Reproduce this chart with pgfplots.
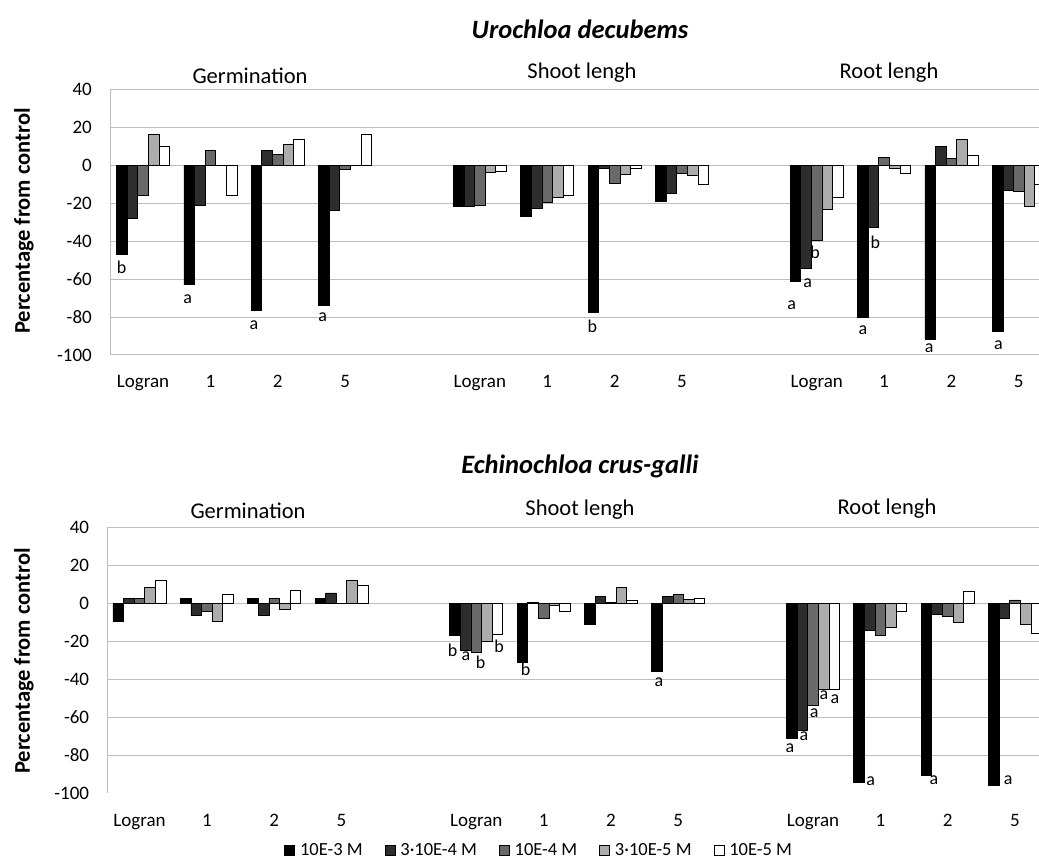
\documentclass[border=0pt]{standalone}
\usepackage{pgfplots}
\usepackage{pgfplotstable}
\pgfplotsset{compat=1.18}
\usepackage{fontspec}
\setmainfont{Carlito}
\definecolor{cA}{RGB}{0,0,0}
\definecolor{cB}{RGB}{45,45,45}
\definecolor{cC}{RGB}{105,105,105}
\definecolor{cD}{RGB}{172,172,172}
\definecolor{cE}{RGB}{255,255,255}
\definecolor{gridc}{RGB}{190,190,190}

\pgfplotstableread{
x a b c d e
0 -47 -28 -16 16 10
1 -63 -21 8 0 -16
2 -76.5 8 5.5 11 13.5
3 -74 -24 -2 0 16
5 -21.6 -21.8 -21 -4 -3.5
6 -27.2 -22.5 -19.8 -16.9 -16
7 -77.3 -1.5 -9.3 -4.9 -1.4
8 -19 -14.8 -4.4 -5.6 -10.2
10 -61 -54.4 -39.7 -23 -17
11 -80.4 -32.5 4.2 -1.4 -4.2
12 -91.5 9.7 3.5 13.5 5.4
13 -87.6 -13.2 -13.7 -21.6 -10.2
}\topdata

\pgfplotstableread{
x a b c d e
0 -9.3 2.6 2.6 8.6 12.1
1 2.6 -6.1 -4 -9.3 4.9
2 2.6 -6.1 2.6 -3 7
3 2.6 5.6 0 12 9.7
5 -16.9 -24.9 -25.6 -20 -16
6 -30.9 0.7 -7.6 -1 -4.2
7 -10.9 3.9 0.7 8.4 1.9
8 -35.5 3.9 4.7 2.3 2.8
10 -71.3 -66.6 -53.4 -45.1 -45.1
11 -94.3 -14 -16.9 -12.3 -4.2
12 -90.3 -5.6 -6.7 -9.8 6.5
13 -95.9 -7.6 1.9 -11.2 -15.5
}\botdata

\tikzset{lett/.style={font=\fontsize{18}{20}\selectfont, inner sep=0pt}}
\pgfplotsset{
  myaxis/.style={
    scale only axis,
    ybar=0pt, bar width=10.6pt,
    ymin=-100, ymax=40,
    xtick={0,1,2,3,5,6,7,8,10,11,12,13},
    xticklabels={Logran,1,2,5,Logran,1,2,5,Logran,1,2,5},
    major tick length=0pt,
    axis lines*=left,
    x axis line style={draw=none},
    y axis line style={draw=gridc, line width=1pt, -},
    /pgf/number format/assume math mode=true,
    ticklabel style={font=\fontsize{19}{22}\selectfont},
    xticklabel style={anchor=base, yshift=-33pt},
    yticklabel style={anchor=east, inner sep=0pt, xshift=-18pt},
    every axis plot/.append style={draw=black, line width=0.7pt},
    grid style={draw=gridc, line width=1pt},
    legend image code/.code={\draw[#1] (0pt,-5pt) rectangle (10pt,5pt);},
  },
}

\begin{document}
\begin{tikzpicture}[x=1pt,y=1pt]
\useasboundingbox (0,0) rectangle (1039,866);

% ---------- top chart ----------
\begin{axis}[myaxis,
  at={(110pt,511pt)}, anchor=south west,
  width=929pt, height=265.7pt,
  xmin=-0.49, xmax=13.30,
  ytick={-100,-80,...,40},
  ymajorgrids,
]
\addplot[fill=cA] table[x=x,y=a]{\topdata};
\addplot[fill=cB] table[x=x,y=b]{\topdata};
\addplot[fill=cC] table[x=x,y=c]{\topdata};
\addplot[fill=cD] table[x=x,y=d]{\topdata};
\addplot[fill=cE] table[x=x,y=e]{\topdata};
\node[lett] at (axis cs:-0.316,-54) {b};
\node[lett] at (axis cs:0.663,-70.8) {a};
\node[lett] at (axis cs:1.648,-84.3) {a};
\node[lett] at (axis cs:2.667,-80.1) {a};
\node[lett] at (axis cs:6.669,-84.8) {b};
\node[lett] at (axis cs:9.629,-73.9) {a};
\node[lett] at (axis cs:9.866,-62.0) {a};
\node[lett] at (axis cs:9.975,-45.8) {b};
\node[lett] at (axis cs:10.687,-86.9) {a};
\node[lett] at (axis cs:10.870,-40.6) {b};
\node[lett] at (axis cs:11.671,-96.6) {a};
\node[lett] at (axis cs:12.696,-94.8) {a};
\end{axis}

% ---------- bottom chart ----------
\begin{axis}[myaxis,
  at={(107.3pt,72.7pt)}, anchor=south west,
  width=931.7pt, height=265.6pt,
  xmin=-0.478, xmax=13.356,
  ytick={-100,-80,...,40},
  extra y ticks={-80,-60,-40,-20,0,20,40},
  extra y tick labels={},
  extra y tick style={grid=major},
  legend columns=5,
  legend style={at={(axis description cs:0.4635,-0.2134)}, anchor=center,
    draw=none, fill=none, font=\fontsize{18.5}{21}\selectfont,
    /tikz/every odd column/.append style={column sep=3pt},
    /tikz/every even column/.append style={column sep=20pt}},
]
\addplot[fill=cA] table[x=x,y=a]{\botdata};
\addplot[fill=cB] table[x=x,y=b]{\botdata};
\addplot[fill=cC] table[x=x,y=c]{\botdata};
\addplot[fill=cD] table[x=x,y=d]{\botdata};
\addplot[fill=cE] table[x=x,y=e]{\botdata};
\legend{10E-3 M, 3·10E-4 M, 10E-4 M, 3·10E-5 M, 10E-5 M}
\node[lett] at (axis cs:4.650,-24.8) {b};
\node[lett] at (axis cs:4.848,-27.9) {a};
\node[lett] at (axis cs:5.066,-30.9) {b};
\node[lett] at (axis cs:5.338,-22.7) {b};
\node[lett] at (axis cs:5.734,-34.4) {b};
\node[lett] at (axis cs:7.713,-41.6) {a};
\node[lett] at (axis cs:9.659,-76.2) {a};
\node[lett] at (axis cs:9.866,-69.7) {a};
\node[lett] at (axis cs:10.019,-57.8) {a};
\node[lett] at (axis cs:10.163,-48.1) {a};
\node[lett] at (axis cs:10.327,-50.4) {a};
\node[lett] at (axis cs:10.857,-93.8) {a};
\node[lett] at (axis cs:11.797,-93.2) {a};
\node[lett] at (axis cs:12.900,-93.2) {a};
\end{axis}

% ---------- titles ----------
\node[anchor=base, font=\fontsize{26.5}{30}\selectfont\bfseries\itshape] at (580,827) {Urochloa decubems};
\node[anchor=base, font=\fontsize{26.5}{30}\selectfont\bfseries\itshape] at (580,392) {Echinochloa crus-galli};
\node[anchor=base, font=\fontsize{22.5}{26}\selectfont] at (250,782) {Germination};
\node[anchor=base, font=\fontsize{22.5}{26}\selectfont] at (582,787) {Shoot lengh};
\node[anchor=base, font=\fontsize{22.5}{26}\selectfont] at (889,787) {Root lengh};
\node[anchor=base, font=\fontsize{22.5}{26}\selectfont] at (248,347) {Germination};
\node[anchor=base, font=\fontsize{22.5}{26}\selectfont] at (580,350) {Shoot lengh};
\node[anchor=base, font=\fontsize{22.5}{26}\selectfont] at (887,351) {Root lengh};
\node[rotate=90, font=\fontsize{22.5}{26}\selectfont\bfseries] at (24,645) {Percentage from control};
\node[rotate=90, font=\fontsize{22.5}{26}\selectfont\bfseries] at (24,205) {Percentage from control};
\end{tikzpicture}
\end{document}
